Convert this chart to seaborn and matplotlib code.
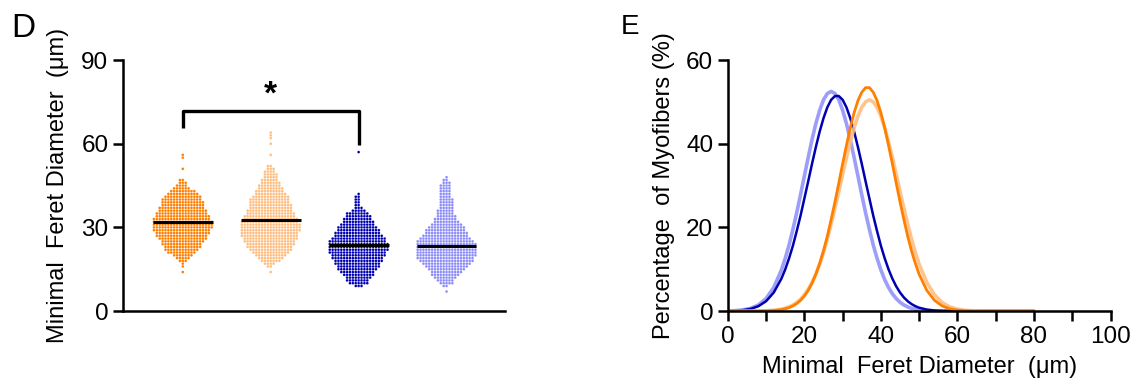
import numpy as np
import pandas as pd
import matplotlib
matplotlib.use("Agg")
import matplotlib.pyplot as plt
import seaborn as sns

# ---- panel D: swarm data (diameter value in um -> number of fibers) ----
groups = ["WT", "WT+", "KO", "KO+"]
colors = ["#FF7F00", "#FFBE80", "#0000B0", "#8C8CFA"]

wt_vals = [14, 16, 17, 18, 19, 20, 21, 22, 23, 24, 25, 26, 27, 28, 29, 30, 31, 32, 33,
           34, 35, 36, 37, 38, 39, 40, 41, 42, 43, 44, 45, 46, 47, 51, 55, 56]
wt_counts = [1, 1, 1, 3, 5, 7, 10, 12, 13, 14, 15, 17, 18, 19, 20, 21, 21, 21, 20,
             19, 18, 17, 16, 15, 15, 14, 13, 11, 9, 6, 4, 3, 2, 1, 1, 1]

wtp_vals = [14, 16, 17, 18, 19, 20, 21, 22, 23, 24, 25, 26, 27, 28, 29, 30, 31, 32, 33,
            34, 35, 36, 37, 38, 39, 40, 41, 42, 43, 44, 45, 46, 47, 48, 49, 50, 51,
            52, 56, 60, 62, 63, 64]
wtp_counts = [1, 2, 4, 7, 9, 11, 13, 15, 16, 17, 18, 19, 20, 20, 21, 21, 21, 20, 19,
              18, 17, 16, 15, 15, 14, 14, 13, 11, 10, 9, 8, 7, 6, 5, 5, 4, 3,
              2, 1, 1, 1, 1, 1]

ko_vals = [9, 10, 11, 12, 13, 14, 15, 16, 17, 18, 19, 20, 21, 22, 23, 24, 25, 26, 27,
           28, 29, 30, 31, 32, 33, 34, 35, 36, 37, 38, 39, 40, 41, 42, 57]
ko_counts = [3, 7, 8, 9, 11, 12, 14, 15, 16, 17, 18, 19, 20, 21, 21, 21, 20, 19, 17,
             16, 15, 14, 12, 11, 10, 9, 8, 5, 3, 2, 2, 2, 2, 1, 1]

kop_vals = [7, 9, 10, 11, 12, 13, 14, 15, 16, 17, 18, 19, 20, 21, 22, 23, 24, 25, 26,
            27, 28, 29, 30, 31, 32, 33, 34, 35, 36, 37, 38, 39, 40, 41, 42, 43, 44,
            45, 46, 47, 48]
kop_counts = [1, 2, 5, 6, 8, 10, 11, 13, 15, 17, 19, 20, 21, 21, 21, 21, 21, 20, 18,
              16, 15, 14, 13, 11, 9, 8, 7, 6, 6, 5, 5, 5, 5, 4, 4, 4, 4,
              4, 3, 2, 1]

group_means = [31.8, 32.5, 23.6, 23.3]

# ---- panel E: fitted distributions ----
x_diam = ([0, 2, 4, 6, 8, 10, 12, 14]
          + list(range(15, 50))
          + [50, 52, 54, 56, 58, 60, 62, 64, 66, 68, 70, 72, 74, 76, 78, 80])
ko_pct = [0.03, 0.09, 0.23, 0.54, 1.17, 2.36, 4.43, 7.75,
          9.97, 12.6, 15.6, 19.1, 22.8, 26.9, 31.0, 35.2, 39.2, 42.9, 46.1, 48.7,
          50.5, 51.4, 51.4, 50.5, 48.7, 46.1, 42.9, 39.2, 35.2, 31.0, 26.9, 22.8,
          19.1, 15.6, 12.6, 9.97, 7.75, 5.91, 4.43, 3.26, 2.36, 1.68, 1.17,
          0.80, 0.36, 0.15, 0.06, 0.02, 0, 0, 0, 0, 0, 0, 0, 0, 0, 0, 0]
kop_pct = [0.04, 0.11, 0.28, 0.66, 1.46, 2.99, 5.63, 9.82,
           12.6, 15.8, 19.5, 23.5, 27.8, 32.3, 36.7, 41.0, 44.8, 48.0, 50.5, 52.0,
           52.5, 52.0, 50.5, 48.0, 44.8, 41.0, 36.7, 32.3, 27.8, 23.5, 19.5, 15.8,
           12.6, 9.82, 7.51, 5.63, 4.14, 2.99, 2.11, 1.46, 0.99, 0.66, 0.43,
           0.28, 0.11, 0.04, 0, 0, 0, 0, 0, 0, 0, 0, 0, 0, 0, 0, 0]
wt_pct = [0, 0, 0, 0.01, 0.02, 0.05, 0.14, 0.35,
          0.55, 0.83, 1.23, 1.79, 2.56, 3.60, 4.94, 6.65, 8.78, 11.4, 14.4, 17.9,
          21.9, 26.1, 30.6, 35.2, 39.6, 43.8, 47.4, 50.3, 52.3, 53.4, 53.4, 52.3,
          50.3, 47.4, 43.8, 39.6, 35.2, 30.6, 26.1, 21.9, 17.9, 14.4, 11.4,
          8.78, 4.94, 2.56, 1.23, 0.55, 0.22, 0.08, 0.03, 0, 0, 0, 0, 0, 0, 0, 0]
wtp_pct = [0, 0, 0, 0, 0.03, 0.08, 0.19, 0.46,
           0.68, 1.00, 1.44, 2.04, 2.83, 3.87, 5.19, 6.83, 8.85, 11.2, 14.0, 17.2,
           20.8, 24.6, 28.6, 32.7, 36.7, 40.4, 43.8, 46.6, 48.7, 50.0, 50.5, 50.0,
           48.7, 46.6, 43.8, 40.4, 36.7, 32.7, 28.6, 24.6, 20.8, 17.2, 14.0,
           11.2, 6.83, 3.87, 2.04, 1.00, 0.46, 0.19, 0.08, 0.03, 0, 0, 0, 0, 0, 0, 0]

sns.set_style("ticks")
plt.rcParams["font.family"] = ["Liberation Sans", "DejaVu Sans"]
plt.rcParams.update({"text.color": "black", "axes.labelcolor": "black",
                     "xtick.color": "black", "ytick.color": "black",
                     "axes.edgecolor": "black"})

fig = plt.figure(figsize=(11.39, 3.85), dpi=100)
axD = fig.add_axes([0.108, 0.192, 0.335, 0.652])
axE = fig.add_axes([0.639, 0.192, 0.336, 0.652])

# build the long table for the swarm
all_vals = [wt_vals, wtp_vals, ko_vals, kop_vals]
all_counts = [wt_counts, wtp_counts, ko_counts, kop_counts]
frames = []
for g, v, c in zip(groups, all_vals, all_counts):
    frames.append(pd.DataFrame({"group": g, "diam": np.repeat(v, c)}))
df = pd.concat(frames, ignore_index=True)

# dots just small enough that neighbouring 1-um rows don't push each other out
sns.swarmplot(data=df, x="group", y="diam", hue="group", order=groups,
              hue_order=groups, palette=colors, size=1.92, linewidth=0.06,
              edgecolor="white", legend=False, ax=axD, warn_thresh=1)

for i, m in enumerate(group_means):
    axD.hlines(m, i - 0.34, i + 0.34, color="black", lw=2.2, zorder=5)

# significance bracket
axD.plot([0, 0, 2, 2], [65.6, 71.6, 71.6, 59.5], color="black", lw=2.4,
         clip_on=False, solid_capstyle="butt")
axD.text(1, 72.0, "*", ha="center", va="bottom", fontsize=24, fontweight="bold")

axD.set_xlim(-0.68, 3.66)
axD.set_ylim(0, 90)
axD.set_yticks([0, 30, 60, 90])
axD.set_xticks([])
axD.set_xlabel("")
axD.set_ylabel("Minimal  Feret Diameter  (\u03bcm)", fontsize=17, labelpad=9)
axD.tick_params(axis="y", labelsize=17.5, width=1.8, length=7, direction="out")
for s in ["left", "bottom"]:
    axD.spines[s].set_linewidth(1.8)
sns.despine(ax=axD)

# panel E curves
curves = pd.DataFrame({"x": x_diam, "KO+": kop_pct, "KO": ko_pct,
                       "WT+": wtp_pct, "WT": wt_pct})
sns.lineplot(data=curves, x="x", y="KO+", color="#8C8CFA", lw=2.6, alpha=0.85, ax=axE)
sns.lineplot(data=curves, x="x", y="KO", color="#0000B0", lw=1.8, ax=axE)
sns.lineplot(data=curves, x="x", y="WT+", color="#FFBE80", lw=2.6, alpha=0.9, ax=axE)
sns.lineplot(data=curves, x="x", y="WT", color="#FF7F00", lw=2.0, ax=axE)

axE.set_xlim(0, 100)
axE.set_ylim(0, 60)
axE.set_xticks([0, 20, 40, 60, 80, 100])
axE.set_xticks([10, 30, 50, 70, 90], minor=True)
axE.set_yticks([0, 20, 40, 60])
axE.set_xlabel("Minimal  Feret Diameter  (\u03bcm)", fontsize=17, labelpad=6)
axE.set_ylabel("Percentage  of Myofibers (%)", fontsize=17, labelpad=8)
axE.tick_params(axis="both", which="major", labelsize=17.5, width=1.8, length=7)
axE.tick_params(axis="x", which="minor", width=1.8, length=7)
for s in ["left", "bottom"]:
    axE.spines[s].set_linewidth(1.8)
sns.despine(ax=axE)

fig.text(0.010, 0.905, "D", fontsize=24)
fig.text(0.545, 0.912, "E", fontsize=20)

fig.savefig("out.png", dpi=100)
